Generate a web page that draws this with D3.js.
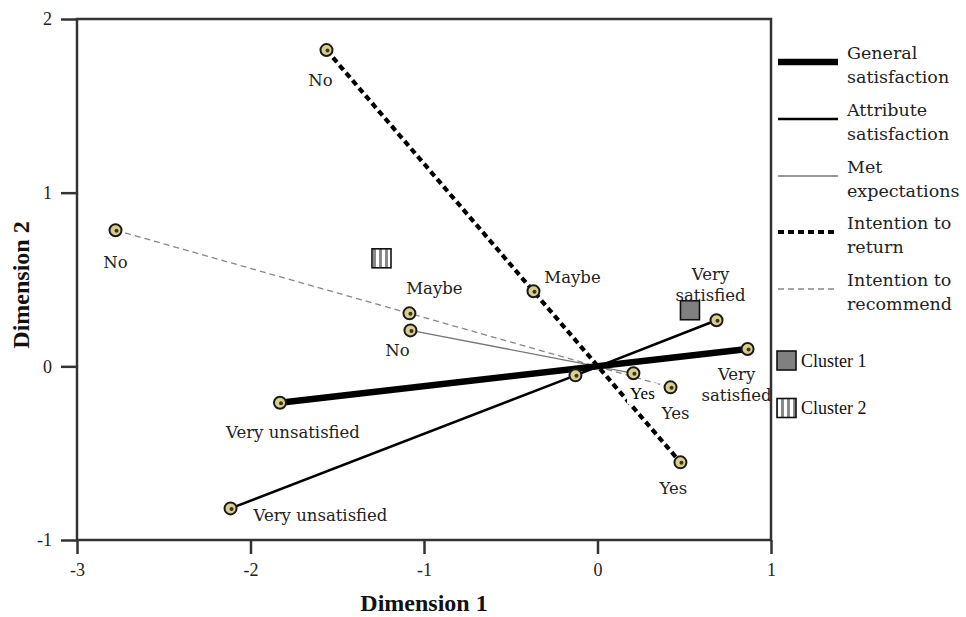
<!DOCTYPE html>
<html>
<head>
<meta charset="utf-8">
<script src="https://cdn.jsdelivr.net/npm/d3@7/dist/d3.min.js"></script>
<style>
  html, body { margin: 0; padding: 0; background: #fff; }
  svg { display: block; }
</style>
</head>
<body>
<svg id="chart" width="966" height="617"></svg>
<script>
// ---------------- DATA ----------------
const xTicks = [-3, -2, -1, 0, 1];
const yTicks = [-1, 0, 1, 2];
const xTitle = "Dimension 1";
const yTitle = "Dimension 2";

const seriesNames = ["General satisfaction", "Attribute satisfaction", "Met expectations", "Intention to return", "Intention to recommend"];

const generalCats = ["Very unsatisfied", "Very satisfied"];
const generalX = [-1.83, 0.865];
const generalY = [-0.21, 0.10];

const attributeCats = ["Very unsatisfied", "", "Very satisfied"];
const attributeX = [-2.115, -0.127, 0.686];
const attributeY = [-0.818, -0.052, 0.265];

const metCats = ["No", "Yes"];
const metX = [-1.078, 0.207];
const metY = [0.207, -0.040];

const returnCats = ["No", "Maybe", "Yes"];
const returnX = [-1.562, -0.369, 0.478];
const returnY = [1.821, 0.432, -0.553];

const recommendCats = ["No", "Maybe", "Yes"];
const recommendX = [-2.778, -1.084, 0.421];
const recommendY = [0.784, 0.305, -0.121];

const clusterNames = ["Cluster 1", "Cluster 2"];
const clusterX = [0.533, -1.245];
const clusterY = [0.323, 0.622];

// ---------------- STYLE / LAYOUT ----------------
const plot = { left: 77, right: 771, top: 19, bottom: 540 };
const serifWide = "'DejaVu Serif', serif";
const serifTimes = "'Liberation Serif', 'Times New Roman', serif";

const lineStyles = [
  { stroke: "#000", width: 6.5, dash: null },
  { stroke: "#000", width: 2.6, dash: null },
  { stroke: "#777", width: 1.3, dash: null },
  { stroke: "#000", width: 4.2, dash: "6,4" },
  { stroke: "#888", width: 1.3, dash: "6,4" }
];
// label placement: [dx, dy(of first line), anchor, whiteBox, twoLines]
const labelPlace = {
  "0-0": [13, 29, "middle"], "0-1": [-11, 25, "middle", false, true],
  "1-0": [23, 7, "start"], "1-2": [-6, -46, "middle", false, true],
  "2-0": [-13, 20, "middle"], "2-1": [9, 20, "middle", true],
  "3-0": [-6, 30, "middle"], "3-1": [39, -14, "middle"], "3-2": [-7, 26, "middle"],
  "4-0": [0, 32, "middle"], "4-1": [25, -25, "middle"], "4-2": [5, 26, "middle"]
};

// ---------------- BUILD ----------------
const allSeries = [
  { cats: generalCats, xs: generalX, ys: generalY },
  { cats: attributeCats, xs: attributeX, ys: attributeY },
  { cats: metCats, xs: metX, ys: metY },
  { cats: returnCats, xs: returnX, ys: returnY },
  { cats: recommendCats, xs: recommendX, ys: recommendY }
].map((s, i) => ({
  name: seriesNames[i],
  idx: i,
  points: s.cats.map((c, j) => ({ cat: c, x: s.xs[j], y: s.ys[j], j }))
}));

const svg = d3.select("#chart");
const x = d3.scaleLinear().domain([-3, 1]).range([plot.left, plot.right]);
const y = d3.scaleLinear().domain([-1, 2]).range([plot.bottom, plot.top]);

// pattern for cluster 2
const defs = svg.append("defs");
const pat = defs.append("pattern").attr("id", "stripes")
  .attr("patternUnits", "userSpaceOnUse").attr("width", 6).attr("height", 6);
pat.append("rect").attr("width", 6).attr("height", 6).attr("fill", "#fff");
pat.append("rect").attr("x", 1).attr("width", 3).attr("height", 6).attr("fill", "#8a8a8a");

// axes
const fmt = d => String(d);
const xAxis = d3.axisBottom(x).tickValues(xTicks).tickSize(14).tickPadding(6).tickFormat(fmt);
const yAxis = d3.axisLeft(y).tickValues(yTicks).tickSize(16).tickPadding(9).tickFormat(fmt);

const gx = svg.append("g").attr("transform", `translate(0,${plot.bottom})`).call(xAxis);
const gy = svg.append("g").attr("transform", `translate(${plot.left},0)`).call(yAxis);
[gx, gy].forEach(g => {
  g.attr("font-family", null);
  g.select(".domain").remove();
  g.selectAll(".tick line").attr("stroke", "#333").attr("stroke-width", 2.5);
  g.selectAll(".tick text").attr("fill", "#222")
    .style("font-family", serifTimes).style("font-size", "18px");
});
gx.selectAll(".tick text").attr("dy", "0.9em");

// frame
svg.append("rect")
  .attr("x", plot.left).attr("y", plot.top)
  .attr("width", plot.right - plot.left).attr("height", plot.bottom - plot.top)
  .attr("fill", "none").attr("stroke", "#333").attr("stroke-width", 2.5);

// axis titles
svg.append("text").text(xTitle)
  .attr("x", (plot.left + plot.right) / 2).attr("y", 611)
  .attr("text-anchor", "middle")
  .style("font-family", serifTimes).style("font-weight", "bold").style("font-size", "24px")
  .attr("fill", "#111");
svg.append("text").text(yTitle)
  .attr("transform", `translate(29,285) rotate(-90)`)
  .attr("text-anchor", "middle")
  .style("font-family", serifTimes).style("font-weight", "bold").style("font-size", "24px")
  .attr("fill", "#111");

// lines
const line = d3.line().x(d => x(d.x)).y(d => y(d.y));
const drawOrder = [4, 2, 3, 1, 0];
const gLines = svg.append("g");
drawOrder.forEach(i => {
  const s = allSeries[i], st = lineStyles[i];
  gLines.append("path").datum(s.points)
    .attr("d", line)
    .attr("fill", "none")
    .attr("stroke", st.stroke)
    .attr("stroke-width", st.width)
    .attr("stroke-dasharray", st.dash)
    .attr("stroke-linejoin", "round");
});

// clusters
const clusterFill = ["#808080", "url(#stripes)"];
const cs = 19;
svg.append("g").selectAll("rect")
  .data(clusterNames.map((n, i) => ({ n, x: clusterX[i], y: clusterY[i], i })))
  .join("rect")
  .attr("x", d => x(d.x) - cs / 2).attr("y", d => y(d.y) - cs / 2)
  .attr("width", cs).attr("height", cs)
  .attr("fill", d => clusterFill[d.i])
  .attr("stroke", "#111").attr("stroke-width", 1.6);

// points
const allPoints = allSeries.flatMap(s => s.points.map(p => ({ ...p, s: s.idx })));
const gPts = svg.append("g");
gPts.selectAll("circle.pt").data(allPoints).join("circle").attr("class", "pt")
  .attr("cx", d => x(d.x)).attr("cy", d => y(d.y)).attr("r", 6)
  .attr("fill", "#d8cf8c").attr("stroke", "#1a1a1a").attr("stroke-width", 2);
gPts.selectAll("circle.dot").data(allPoints).join("circle").attr("class", "dot")
  .attr("cx", d => x(d.x) + 1).attr("cy", d => y(d.y) + 0.5).attr("r", 2)
  .attr("fill", "#3a3520");

// labels
const gLab = svg.append("g");
allPoints.forEach(p => {
  const pl = labelPlace[`${p.s}-${p.j}`];
  if (!pl || !p.cat) return;
  const [dx, dy, anchor, box, two] = pl;
  const px = x(p.x) + dx, py = y(p.y) + dy;
  if (box) {
    const t = gLab.append("text").text(p.cat)
      .attr("x", px).attr("y", py).attr("dy", "0.35em")
      .attr("text-anchor", anchor)
      .style("font-family", serifTimes).style("font-size", "17px").attr("fill", "#000");
    const bb = t.node().getBBox();
    gLab.insert("rect", () => t.node())
      .attr("x", bb.x - 3).attr("y", bb.y - 1).attr("width", bb.width + 6).attr("height", bb.height + 2)
      .attr("fill", "#fff");
    return;
  }
  const words = two ? p.cat.split(" ") : [p.cat];
  words.forEach((w, k) => {
    gLab.append("text").text(w)
      .attr("x", px).attr("y", py + k * 21).attr("dy", "0.35em")
      .attr("text-anchor", anchor)
      .style("font-family", serifWide).style("font-size", "16.5px").attr("fill", "#222");
  });
});

// legend
const legX1 = 778, legX2 = 838, legTextX = 847;
const legLineY = [62, 119, 176, 232, 289];
const legendLabels = [["General", "satisfaction"], ["Attribute", "satisfaction"], ["Met", "expectations"], ["Intention to", "return"], ["Intention to", "recommend"]];
const gLeg = svg.append("g");
seriesNames.forEach((n, i) => {
  const st = lineStyles[i];
  gLeg.append("line")
    .attr("x1", legX1).attr("x2", legX2).attr("y1", legLineY[i]).attr("y2", legLineY[i])
    .attr("stroke", st.stroke).attr("stroke-width", st.width).attr("stroke-dasharray", st.dash);
  legendLabels[i].forEach((t, k) => {
    gLeg.append("text").text(t)
      .attr("x", legTextX).attr("y", legLineY[i] - 3 + k * 24)
      .style("font-family", serifWide).style("font-size", "17.5px").attr("fill", "#222");
  });
});
const legClusterY = [360.5, 408];
clusterNames.forEach((n, i) => {
  gLeg.append("rect")
    .attr("x", 777).attr("y", legClusterY[i] - cs / 2).attr("width", cs).attr("height", cs)
    .attr("fill", clusterFill[i]).attr("stroke", "#111").attr("stroke-width", 1.6);
  gLeg.append("text").text(n)
    .attr("x", 801).attr("y", legClusterY[i]).attr("dy", "0.35em")
    .style("font-family", serifTimes).style("font-size", "18px").attr("fill", "#111");
});
</script>
</body>
</html>
